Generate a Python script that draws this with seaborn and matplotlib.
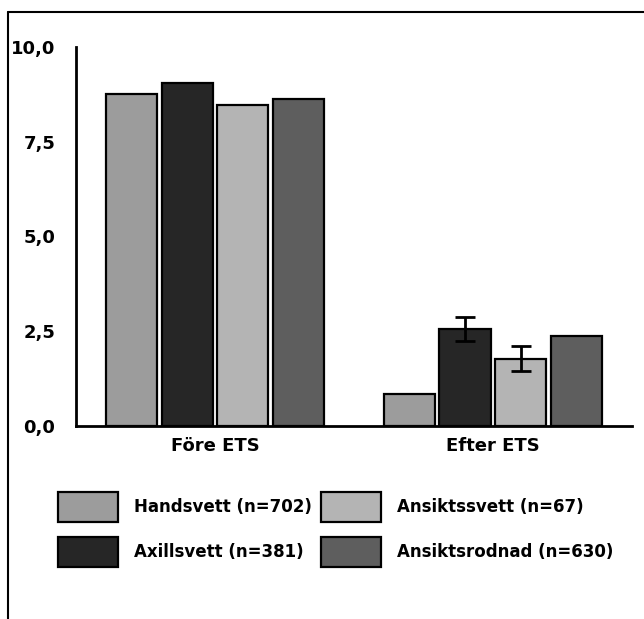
import pandas as pd
import seaborn as sns
import matplotlib.pyplot as plt
from matplotlib.patches import Patch
from matplotlib.lines import Line2D

# values
groups = ['Före ETS', 'Efter ETS']
series = ['Handsvett (n=702)', 'Axillsvett (n=381)', 'Ansiktssvett (n=67)', 'Ansiktsrodnad (n=630)']
fore = [8.76, 9.05, 8.47, 8.63]
efter = [0.84, 2.56, 1.77, 2.37]
efter_err = [0.0, 0.32, 0.33, 0.0]
colors = ['#9c9c9c', '#262626', '#b4b4b4', '#5e5e5e']
yticks = [0.0, 2.5, 5.0, 7.5, 10.0]
ytick_labels = ['0,0', '2,5', '5,0', '7,5', '10,0']

df = pd.DataFrame({
    'group': [groups[0]] * 4 + [groups[1]] * 4,
    'series': series + series,
    'value': fore + efter,
})

sns.set_style('white')
plt.rcParams['font.family'] = ['DejaVu Sans']
plt.rcParams['font.weight'] = 'bold'
plt.rcParams['text.color'] = 'black'
plt.rcParams['xtick.color'] = 'black'
plt.rcParams['ytick.color'] = 'black'

fig = plt.figure(figsize=(6.44, 6.19), dpi=100)
ax = fig.add_axes([0.118, 0.312, 0.863, 0.612])

sns.barplot(data=df, x='group', y='value', hue='series', hue_order=series,
            palette=colors, width=0.8, gap=0.08, edgecolor='black',
            linewidth=1.6, legend=False, ax=ax)

# error bars on the "Efter ETS" bars
bar_containers = list(ax.containers)
for i, c in enumerate(bar_containers):
    bar = c.patches[1]
    if efter_err[i] > 0:
        ax.errorbar(bar.get_x() + bar.get_width() / 2, efter[i], yerr=efter_err[i],
                    color='black', capsize=7, capthick=2, elinewidth=2, zorder=5)

ax.set_ylim(0, 10)
ax.set_xlim(-0.5, 1.5)
ax.set_yticks(yticks)
ax.set_yticklabels(ytick_labels, fontsize=13, fontweight='bold')
ax.set_xticks([0, 1])
ax.set_xticklabels(groups, fontsize=13, fontweight='bold')
ax.tick_params(axis='x', which='major', length=0, pad=8)
ax.set_xticks([0.5, 1.5], minor=True)
ax.tick_params(axis='x', which='minor', direction='in', length=11, width=2, color='black')
ax.tick_params(axis='y', length=13, width=2, color='black', pad=2, direction='out')
ax.set_xlabel('')
ax.set_ylabel('')
for s in ['top', 'right']:
    ax.spines[s].set_visible(False)
for s in ['left', 'bottom']:
    ax.spines[s].set_linewidth(2)
    ax.spines[s].set_color('black')

handles = [Patch(facecolor=col, edgecolor='black', linewidth=1.6) for col in colors]
fig.legend(handles, series, ncol=2, loc='upper left', bbox_to_anchor=(0.067, 0.23),
           frameon=False, handlelength=3.6, handleheight=2.4, handletextpad=0.95,
           columnspacing=0.55, labelspacing=0.9, prop={'size': 12, 'weight': 'bold'})

# outer frame lines (top and left)
fig.add_artist(Line2D([0.012, 1.0], [0.981, 0.981], color='black', lw=1.5))
fig.add_artist(Line2D([0.012, 0.012], [0.0, 0.981], color='black', lw=1.5))

fig.savefig('out.png', dpi=100)
